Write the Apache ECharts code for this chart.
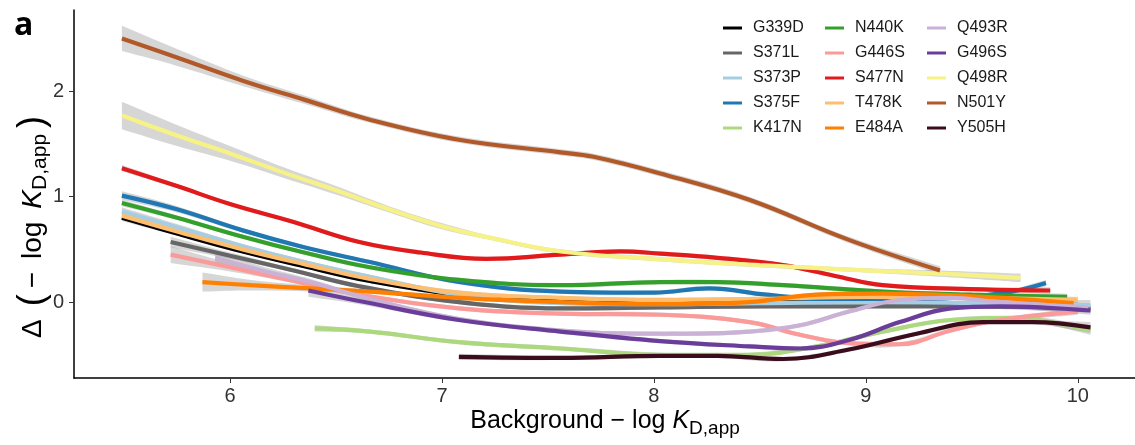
<!DOCTYPE html>
<html>
<head>
<meta charset="utf-8">
<script src="https://cdn.jsdelivr.net/npm/echarts@6/dist/echarts.min.js"></script>
<style>
html, body { margin: 0; padding: 0; background: #fff; }
#chart { width: 1135px; height: 445px; }
</style>
</head>
<body>
<div id="chart"></div>
<script>
// tick labels
var xTicks = [6, 7, 8, 9, 10]
var yTicks = [0, 1, 2]

var variants = ['G339D', 'S371L', 'S373P', 'S375F', 'K417N',
                'N440K', 'G446S', 'S477N', 'T478K', 'E484A',
                'Q493R', 'G496S', 'Q498R', 'N501Y', 'Y505H']
var colors = ['#000000', '#666666', '#a6cee3', '#1f78b4', '#acd97e',
              '#33a02c', '#fb9a99', '#e31a1c', '#fdbf6f', '#ff7f00',
              '#cab2d6', '#6a3d9a', '#f6f285', '#b15928', '#3b0c1c']

// smoothed curves: [background -logKd, delta, half width of band]
var G339D = [[5.49,0.80,0.03],[5.75,0.65,0.02],[6.06,0.48,0.02],[6.35,0.34,0.02],[6.66,0.20,0.02],[7.08,0.07,0.02],[7.56,0.01,0.02],[8.03,-0.01,0.02],[8.5,0.0,0.02],[9.0,0.0,0.02],[9.5,-0.02,0.02],[10.05,-0.05,0.04]]
var S371L = [[5.72,0.57,0.05],[6.0,0.44,0.03],[6.3,0.30,0.02],[6.61,0.15,0.02],[7.08,0.0,0.02],[7.56,-0.06,0.02],[8.03,-0.05,0.02],[8.5,-0.04,0.02],[9.0,-0.04,0.02],[9.5,-0.04,0.02],[10.06,-0.06,0.04]]
var S373P = [[5.49,0.86,0.04],[5.75,0.71,0.03],[6.06,0.53,0.02],[6.35,0.38,0.02],[6.66,0.24,0.02],[7.08,0.07,0.02],[7.56,-0.01,0.02],[8.03,-0.02,0.02],[8.5,-0.01,0.02],[9.08,0.0,0.02],[9.5,-0.01,0.02],[10.06,-0.03,0.05]]
var S375F = [[5.49,1.01,0.04],[5.75,0.88,0.03],[6.06,0.68,0.02],[6.35,0.52,0.02],[6.66,0.38,0.02],[7.08,0.19,0.02],[7.56,0.10,0.02],[8.0,0.09,0.02],[8.26,0.13,0.02],[8.53,0.07,0.02],[8.8,0.03,0.02],[9.2,0.03,0.02],[9.63,0.08,0.02],[9.85,0.18,0.03]]
var K417N = [[6.40,-0.25,0.03],[6.66,-0.28,0.02],[7.08,-0.38,0.02],[7.56,-0.44,0.02],[8.03,-0.50,0.02],[8.45,-0.50,0.02],[8.77,-0.42,0.02],[9.08,-0.28,0.02],[9.40,-0.17,0.02],[9.71,-0.15,0.02],[9.85,-0.18,0.03],[10.06,-0.27,0.04]]
var N440K = [[5.49,0.94,0.03],[5.75,0.80,0.02],[6.06,0.62,0.02],[6.35,0.47,0.02],[6.66,0.33,0.02],[7.08,0.21,0.02],[7.56,0.16,0.02],[8.03,0.19,0.02],[8.3,0.19,0.02],[8.61,0.16,0.02],[9.08,0.10,0.02],[9.5,0.07,0.02],[9.95,0.05,0.03]]
var G446S = [[5.72,0.45,0.08],[6.0,0.33,0.04],[6.3,0.20,0.02],[6.61,0.07,0.02],[7.08,-0.06,0.02],[7.56,-0.11,0.02],[8.03,-0.12,0.02],[8.45,-0.19,0.02],[8.69,-0.31,0.02],[8.92,-0.39,0.02],[9.16,-0.40,0.02],[9.40,-0.27,0.02],[9.63,-0.17,0.02],[10.0,-0.09,0.03]]
var S477N = [[5.49,1.27,0.03],[5.75,1.10,0.02],[6.0,0.93,0.02],[6.3,0.76,0.02],[6.61,0.57,0.02],[6.9,0.47,0.02],[7.21,0.41,0.02],[7.56,0.45,0.02],[7.84,0.48,0.02],[8.03,0.46,0.02],[8.3,0.42,0.02],[8.61,0.35,0.02],[8.85,0.25,0.02],[9.08,0.16,0.02],[9.55,0.12,0.02],[9.87,0.11,0.03]]
var T478K = [[5.49,0.82,0.03],[5.75,0.67,0.02],[6.06,0.50,0.02],[6.35,0.36,0.02],[6.66,0.22,0.02],[7.08,0.09,0.02],[7.56,0.04,0.02],[8.03,0.02,0.02],[8.5,0.03,0.02],[9.0,0.05,0.02],[9.5,0.04,0.02],[10.0,0.02,0.03]]
var E484A = [[5.87,0.19,0.09],[6.1,0.16,0.05],[6.38,0.13,0.03],[6.66,0.10,0.02],[7.08,0.04,0.02],[7.56,0.0,0.02],[8.03,-0.02,0.02],[8.45,0.0,0.02],[8.77,0.07,0.02],[9.08,0.08,0.02],[9.55,0.05,0.02],[9.98,-0.01,0.03]]
var Q493R = [[5.93,0.42,0.06],[6.15,0.30,0.04],[6.38,0.19,0.03],[6.66,0.03,0.02],[7.08,-0.16,0.02],[7.56,-0.27,0.02],[7.92,-0.30,0.02],[8.2,-0.30,0.02],[8.45,-0.28,0.02],[8.69,-0.22,0.02],[8.92,-0.09,0.02],[9.16,0.02,0.02],[9.40,0.04,0.02],[9.63,0.0,0.02],[10.05,-0.05,0.04]]
var G496S = [[6.37,0.11,0.06],[6.61,0.01,0.03],[7.08,-0.17,0.02],[7.56,-0.28,0.02],[8.03,-0.37,0.02],[8.45,-0.42,0.02],[8.69,-0.44,0.02],[8.92,-0.36,0.02],[9.16,-0.19,0.02],[9.40,-0.06,0.02],[9.63,-0.04,0.02],[10.06,-0.08,0.04]]
var Q498R = [[5.49,1.77,0.13],[5.75,1.58,0.10],[6.0,1.41,0.07],[6.25,1.23,0.05],[6.5,1.06,0.04],[6.75,0.88,0.03],[7.0,0.72,0.03],[7.25,0.60,0.02],[7.56,0.48,0.02],[8.0,0.41,0.02],[8.5,0.35,0.02],[9.0,0.30,0.02],[9.35,0.27,0.03],[9.73,0.23,0.04]]
var N501Y = [[5.49,2.50,0.12],[5.75,2.32,0.08],[6.06,2.10,0.05],[6.35,1.92,0.04],[6.66,1.73,0.03],[7.08,1.54,0.03],[7.56,1.42,0.03],[7.71,1.38,0.03],[8.03,1.22,0.03],[8.45,0.97,0.03],[8.92,0.59,0.03],[9.35,0.30,0.04]]
var Y505H = [[7.08,-0.52,0.03],[7.56,-0.53,0.02],[8.03,-0.51,0.02],[8.30,-0.51,0.02],[8.61,-0.54,0.02],[8.92,-0.45,0.02],[9.24,-0.30,0.02],[9.55,-0.19,0.02],[9.79,-0.19,0.02],[10.06,-0.24,0.05]]

var curves = [G339D, S371L, S373P, S375F, K417N, N440K, G446S, S477N, T478K, E484A, Q493R, G496S, Q498R, N501Y, Y505H]

var SMOOTH = 0.4
var font = 'Liberation Sans, Arial, sans-serif'
var myChart = echarts.init(document.getElementById('chart'), null, { renderer: 'canvas' })

// bezier path through pixel points, same control point rule as the line series
function bezierPath(p) {
  var d = ''
  var n = p.length
  var cps = p.map(function (pt, i) {
    var prev = p[Math.max(i - 1, 0)]
    var next = p[Math.min(i + 1, n - 1)]
    var vx = next[0] - prev[0], vy = next[1] - prev[1]
    var l0 = Math.hypot(pt[0] - prev[0], pt[1] - prev[1])
    var l1 = Math.hypot(next[0] - pt[0], next[1] - pt[1])
    var r = (l0 + l1) ? l1 / (l0 + l1) : 0.5
    return {
      inX: pt[0] - vx * SMOOTH * (1 - r), inY: pt[1] - vy * SMOOTH * (1 - r),
      outX: pt[0] + vx * SMOOTH * r, outY: pt[1] + vy * SMOOTH * r
    }
  })
  for (var i = 1; i < n; i++) {
    d += ' C' + cps[i - 1].outX + ',' + cps[i - 1].outY + ' ' +
         cps[i].inX + ',' + cps[i].inY + ' ' + p[i][0] + ',' + p[i][1]
  }
  return d
}

function bandItem(pts) {
  return function (params, api) {
    if (params.dataIndex !== 0) return null
    var up = pts.map(function (q) { return api.coord([q[0], q[1] + q[2]]) })
    var lo = pts.map(function (q) { return api.coord([q[0], q[1] - q[2]]) }).reverse()
    var d = 'M' + up[0][0] + ',' + up[0][1] + bezierPath(up) +
            ' L' + lo[0][0] + ',' + lo[0][1] + bezierPath(lo) + ' Z'
    return {
      type: 'path',
      shape: { pathData: d },
      style: { fill: 'rgba(153,153,153,0.4)', stroke: null }
    }
  }
}

var series = []
variants.forEach(function (v, i) {
  var pts = curves[i]
  series.push({
    name: v + '_band', type: 'custom', silent: true,
    renderItem: bandItem(pts),
    encode: { x: 0, y: 1 },
    data: pts
  })
  series.push({
    name: v, type: 'line', smooth: SMOOTH, symbol: 'none',
    lineStyle: { color: colors[i], width: 4.2 },
    itemStyle: { color: colors[i] },
    data: pts.map(function (p) { return [p[0], p[1]] })
  })
})

var option = {
  animation: false,
  backgroundColor: '#fff',
  grid: { left: 74, right: 0, top: 10, bottom: 67 },
  legend: [0, 1, 2].map(function (c) {
    return {
      orient: 'vertical', left: 718 + c * 102, top: 15,
      itemGap: 9, itemWidth: 19, itemHeight: 3, icon: 'rect',
      selectedMode: false,
      data: variants.slice(c * 5, c * 5 + 5),
      textStyle: { fontSize: 16, lineHeight: 16, fontFamily: font, color: '#1a1a1a', padding: [0, 0, 0, 6] }
    }
  }),
  xAxis: {
    type: 'value', min: 5.264, max: 10.27,
    splitLine: { show: false },
    axisLine: { onZero: false, lineStyle: { color: '#000', width: 1.5 } },
    axisTick: { customValues: xTicks, length: 5, lineStyle: { color: '#333' } },
    axisLabel: { customValues: xTicks, fontSize: 20, fontFamily: font, color: '#333', margin: 8 }
  },
  yAxis: {
    type: 'value', min: -0.72, max: 2.77,
    splitLine: { show: false },
    axisLine: { show: true, onZero: false, lineStyle: { color: '#000', width: 1.5 } },
    axisTick: { show: true, customValues: yTicks, length: 5, lineStyle: { color: '#333' } },
    axisLabel: { customValues: yTicks, fontSize: 20, fontFamily: font, color: '#333', margin: 10 }
  },
  graphic: [
    {
      type: 'text', left: 14, top: 10,
      style: { text: 'a', font: 'bold 32px "Open Sans", sans-serif', fill: '#000' }
    },
    {
      type: 'text', x: 605, y: 421,
      style: {
        text: '{n|Background − log }{i|K}{s|D,app}',
        align: 'center', verticalAlign: 'middle', fill: '#000',
        rich: {
          n: { fontSize: 25, fontFamily: font, lineHeight: 34 },
          i: { fontSize: 25, fontFamily: font, fontStyle: 'italic', lineHeight: 34 },
          s: { fontSize: 19, fontFamily: font, lineHeight: 19, verticalAlign: 'bottom' }
        }
      }
    },
    {
      type: 'text', x: 33, y: 227, rotation: Math.PI / 2,
      style: {
        text: '{n|Δ}{g|}{p|(}{h|}{n|−}{g|}{n|log}{g|}{i|K}{s|D,app}{h|}{p|)}',
        align: 'center', verticalAlign: 'middle', fill: '#000',
        rich: {
          n: { fontSize: 28, fontFamily: font, lineHeight: 36 },
          p: { fontSize: 36, fontFamily: font, lineHeight: 36 },
          i: { fontSize: 28, fontFamily: font, fontStyle: 'italic', lineHeight: 36 },
          s: { fontSize: 21, fontFamily: font, lineHeight: 21, verticalAlign: 'bottom' },
          g: { width: 13 },
          h: { width: 6 }
        }
      }
    }
  ],
  series: series
}
myChart.setOption(option)
</script>
</body>
</html>
